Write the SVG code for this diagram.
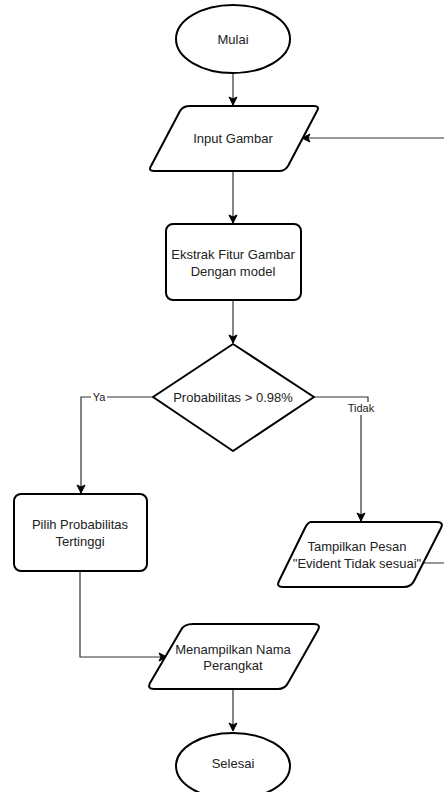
<svg xmlns="http://www.w3.org/2000/svg" width="444" height="792" viewBox="0 0 444 792">
<style>
.s{fill:#fff;stroke:#000;stroke-width:2;stroke-linejoin:round}
.c{fill:none;stroke:#333;stroke-width:1.2}
.t{font-family:"Liberation Sans",Arial,sans-serif;font-size:13px;fill:#222;text-anchor:middle}
.l{font-family:"Liberation Sans",Arial,sans-serif;font-size:11px;fill:#222;text-anchor:middle}
</style>
<defs>
<marker id="a" markerWidth="10" markerHeight="10" refX="9" refY="5" orient="auto" markerUnits="userSpaceOnUse">
<path d="M1,1 L9,5 L1,9 L3,5 Z" fill="#000" stroke="#000" stroke-width="1"/>
</marker>
</defs>
<g id="connectors">
<path class="c" d="M233,73 V105" marker-end="url(#a)"/>
<path class="c" d="M233,171 V223" marker-end="url(#a)"/>
<path class="c" d="M233,300 V343" marker-end="url(#a)"/>
<path class="c" d="M153,397 H81 V493" marker-end="url(#a)"/>
<path class="c" d="M314,397 H368 V403 H361 V521" marker-end="url(#a)"/>
<path class="c" d="M80,571 V657 H167" marker-end="url(#a)"/>
<path class="c" d="M233,689 V731" marker-end="url(#a)"/>
<path class="c" d="M423,563 H450 V138 H302" marker-end="url(#a)"/>
<rect x="91" y="390" width="16" height="14" fill="#fff"/>
<text class="l" x="99" y="401">Ya</text>
<rect x="346" y="402" width="30" height="13" fill="#fff"/>
<text class="l" x="361" y="412">Tidak</text>
</g>
<g id="mulai">
<ellipse class="s" cx="233" cy="39" rx="57" ry="34"/>
<text class="t" x="233" y="44">Mulai</text>
</g>
<g id="input">
<path class="s" d="M190,106 H314 Q320,106 317,111 L288,166 Q285,171 279,171 H154 Q148,171 151,166 L180,111 Q183,106 190,106 Z"/>
<text class="t" x="233" y="143">Input Gambar</text>
</g>
<g id="ekstrak">
<rect class="s" x="166" y="224" width="135" height="76" rx="7"/>
<text class="t" x="233" y="259">Ekstrak Fitur Gambar</text>
<text class="t" x="233" y="276">Dengan model</text>
</g>
<g id="decision">
<path class="s" d="M233,344 L314,397 L233,451 L153,397 Z"/>
<text class="t" x="233" y="402">Probabilitas &gt; 0.98%</text>
</g>
<g id="pilih">
<rect class="s" x="14" y="494" width="133" height="77" rx="7"/>
<text class="t" x="80" y="529">Pilih Probabilitas</text>
<text class="t" x="80" y="546">Tertinggi</text>
</g>
<g id="tampilkan">
<path class="s" d="M311,522 H437 Q444,522 441,528 L414,581 Q411,587 404,587 H283 Q276,587 279,581 L305,528 Q308,522 311,522 Z"/>
<text class="t" x="357" y="551">Tampilkan Pesan</text>
<text class="t" x="357" y="568">"Evident Tidak sesuai"</text>
</g>
<g id="menampilkan">
<path class="s" d="M193,624 H314 Q321,624 318,630 L288,683 Q285,689 278,689 H154 Q147,689 150,683 L181,630 Q184,624 193,624 Z"/>
<text class="t" x="233" y="654">Menampilkan Nama</text>
<text class="t" x="233" y="670">Perangkat</text>
</g>
<g id="selesai">
<ellipse class="s" cx="233" cy="766" rx="57" ry="33"/>
<text class="t" x="233" y="768">Selesai</text>
</g>
</svg>
